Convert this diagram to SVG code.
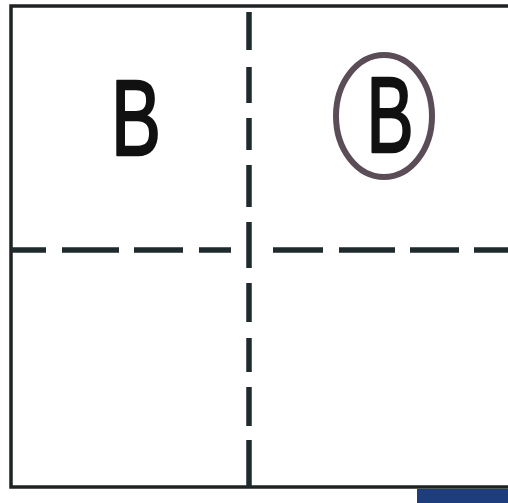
<svg xmlns="http://www.w3.org/2000/svg" width="508" height="503" viewBox="0 0 508 503">
<style>
.frame{fill:none;stroke:#1f2324;stroke-width:3.5}
.dash{stroke:#1f2a2c;stroke-width:5.5;stroke-linecap:butt}
.letter{font-family:"Liberation Sans",Arial,sans-serif;font-size:107px;fill:#111;stroke:#111;stroke-width:2.5;stroke-linejoin:round;text-anchor:middle}
</style>
<rect x="0" y="0" width="508" height="503" fill="#ffffff"/>
<g id="frame">
<polyline class="frame" points="508,6 11,6 11,487 508,487"/>
<rect x="417" y="489" width="91" height="14" fill="#1d3d7c"/>
</g>
<g id="connectors">
<path class="dash" d="M249,12V50M249,67V103M249,118V150M249,165V207M249,222V268M249,283V322M249,338V372M249,387V426M249,440V487"/>
<path class="dash" d="M11,250H46M62,250H119M134,250H183M199,250H231M273,250H323M339,250H395M410,250H459M474,250H508"/>
</g>
<g id="node-left">
<text class="letter" transform="translate(136,155) scale(0.7,1)" x="0" y="0">B</text>
</g>
<g id="node-right">
<ellipse cx="384" cy="116" rx="48" ry="61" fill="none" stroke="#5b4d58" stroke-width="6"/>
<text class="letter" transform="translate(390,152) scale(0.66,1)" x="0" y="0">B</text>
</g>
</svg>
